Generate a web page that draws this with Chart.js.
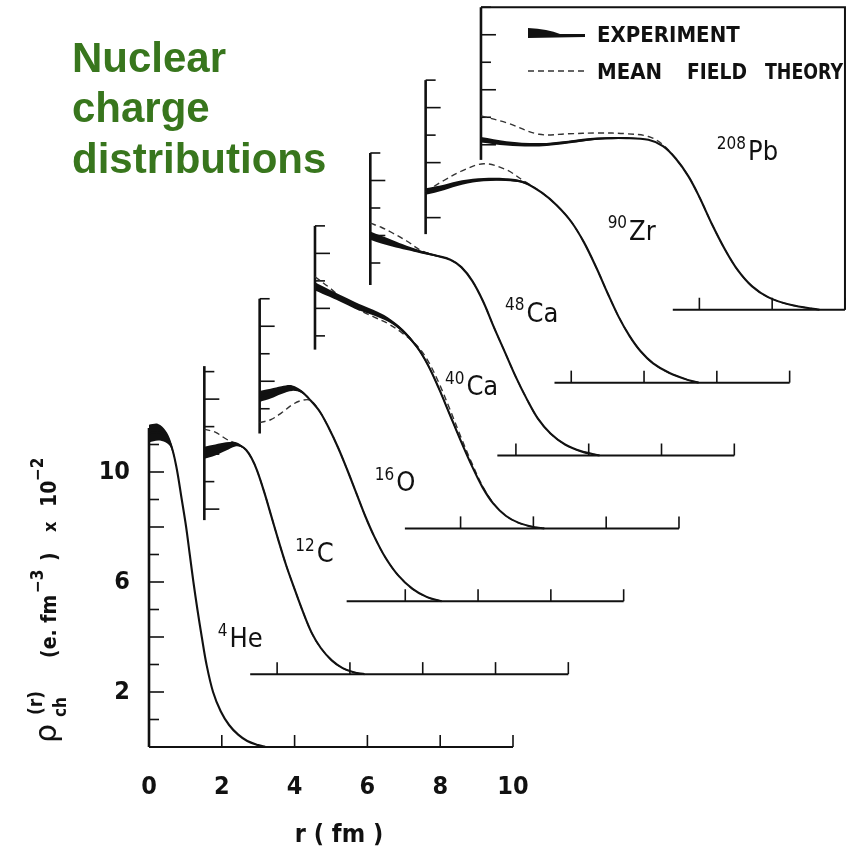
<!DOCTYPE html>
<html>
<head>
<meta charset="utf-8">
<script src="https://cdn.jsdelivr.net/npm/chart.js@4.4.0/dist/chart.umd.min.js"></script>
<style>
  html, body { margin: 0; padding: 0; background: #fff; }
  #wrap { position: relative; width: 856px; height: 850px; }
</style>
</head>
<body>
<div id="wrap"><canvas id="densityChart" width="856" height="850"></canvas></div>
<script>
// nuclei, from front (He) to back (Pb); rho in units of 1e-2 e.fm^-3, r in fm
var symbols = ['He', 'C', 'O', 'Ca', 'Ca', 'Zr', 'Pb'];
var massNumbers = ['4', '12', '16', '40', '48', '90', '208'];

var heR      = [0, 0.25, 0.45, 0.6, 0.75, 0.9, 1.02, 1.12, 1.22, 1.33, 1.45, 1.58, 1.76, 1.97, 2.2, 2.45, 2.7, 3.0, 3.2];
var heExp    = [11.4, 11.45, 11.3, 11.0, 10.2, 9.0, 8.0, 7.0, 6.0, 5.0, 4.0, 3.0, 2.0, 1.3, 0.8, 0.45, 0.22, 0.07, 0];
var heErr    = [0.32, 0.3, 0.22, 0.12, 0.05, 0.03, 0, 0, 0, 0, 0, 0, 0, 0, 0, 0, 0, 0, 0];
var heTheory = null;

var cR      = [0, 0.3, 0.6, 0.85, 1.0, 1.15, 1.3, 1.45, 1.65, 1.85, 2.05, 2.25, 2.45, 2.7, 2.95, 3.2, 3.5, 3.8, 4.1, 4.4];
var cExp    = [8.05, 8.15, 8.28, 8.36, 8.3, 8.15, 7.85, 7.4, 6.6, 5.7, 4.8, 3.95, 3.2, 2.3, 1.5, 0.95, 0.5, 0.22, 0.07, 0];
var cErr    = [0.22, 0.2, 0.15, 0.08, 0.04, 0.02, 0, 0, 0, 0, 0, 0, 0, 0, 0, 0, 0, 0, 0, 0];
var cTheory = [8.9, 8.8, 8.55, 8.4, 8.3, 8.15, 7.85, 7.4, 6.6, 5.7, 4.8, 3.95, 3.2, 2.3, 1.5, 0.95, 0.5, 0.22, 0.07, 0];

var oR      = [0, 0.3, 0.6, 0.9, 1.15, 1.4, 1.65, 1.9, 2.15, 2.4, 2.65, 2.9, 3.15, 3.45, 3.8, 4.2, 4.6, 5.0];
var oExp    = [7.45, 7.55, 7.68, 7.75, 7.62, 7.3, 6.9, 6.3, 5.6, 4.8, 3.95, 3.1, 2.35, 1.6, 0.95, 0.45, 0.15, 0];
var oErr    = [0.2, 0.18, 0.14, 0.1, 0.05, 0, 0, 0, 0, 0, 0, 0, 0, 0, 0, 0, 0, 0];
var oTheory = [6.5, 6.6, 6.85, 7.15, 7.3, 7.3, 6.9, 6.3, 5.6, 4.8, 3.95, 3.1, 2.35, 1.6, 0.95, 0.45, 0.15, 0];

var ca40R      = [0, 0.4, 0.8, 1.2, 1.6, 2.0, 2.4, 2.8, 3.1, 3.4, 3.7, 4.0, 4.3, 4.6, 4.9, 5.25, 5.6, 6.0, 6.3];
var ca40Exp    = [8.8, 8.55, 8.3, 8.05, 7.85, 7.6, 7.2, 6.6, 5.95, 5.1, 4.15, 3.2, 2.3, 1.5, 0.9, 0.45, 0.2, 0.05, 0];
var ca40Err    = [0.15, 0.13, 0.12, 0.12, 0.1, 0.08, 0.06, 0.05, 0.05, 0.05, 0.05, 0.04, 0.03, 0, 0, 0, 0, 0, 0];
var ca40Theory = [9.15, 8.75, 8.3, 7.95, 7.7, 7.45, 7.1, 6.65, 6.1, 5.3, 4.35, 3.35, 2.4, 1.55, 0.92, 0.45, 0.2, 0.05, 0];

var ca48R      = [0, 0.3, 0.6, 1.0, 1.4, 1.8, 2.2, 2.5, 2.8, 3.1, 3.4, 3.7, 4.0, 4.3, 4.6, 4.95, 5.35, 5.8, 6.3];
var ca48Exp    = [8.0, 7.85, 7.72, 7.55, 7.4, 7.27, 7.12, 6.85, 6.35, 5.6, 4.65, 3.75, 2.85, 2.05, 1.35, 0.8, 0.4, 0.15, 0];
var ca48Err    = [0.15, 0.14, 0.12, 0.08, 0.05, 0.03, 0, 0, 0, 0, 0, 0, 0, 0, 0, 0, 0, 0, 0];
var ca48Theory = [8.45, 8.3, 8.1, 7.8, 7.45, 7.27, 7.12, 6.85, 6.35, 5.6, 4.65, 3.75, 2.85, 2.05, 1.35, 0.8, 0.4, 0.15, 0];

var zrR      = [0, 0.5, 1.0, 1.6, 2.2, 2.7, 3.2, 3.6, 4.0, 4.35, 4.7, 5.0, 5.3, 5.6, 5.9, 6.25, 6.7, 7.2, 7.5];
var zrExp    = [6.95, 7.1, 7.28, 7.38, 7.38, 7.28, 6.9, 6.45, 5.85, 5.1, 4.15, 3.25, 2.4, 1.7, 1.15, 0.7, 0.35, 0.1, 0];
var zrErr    = [0.12, 0.1, 0.08, 0.06, 0.05, 0.04, 0, 0, 0, 0, 0, 0, 0, 0, 0, 0, 0, 0, 0];
var zrTheory = [6.95, 7.35, 7.7, 7.96, 7.75, 7.33, 6.9, 6.45, 5.85, 5.1, 4.15, 3.25, 2.4, 1.7, 1.15, 0.7, 0.35, 0.1, 0];

var pbR      = [0, 0.7, 1.6, 2.4, 3.2, 4.0, 4.6, 5.0, 5.35, 5.7, 6.0, 6.35, 6.7, 7.05, 7.45, 7.9, 8.5, 9.3];
var pbExp    = [6.18, 6.05, 6.0, 6.1, 6.22, 6.24, 6.18, 5.95, 5.5, 4.85, 4.1, 3.1, 2.2, 1.45, 0.85, 0.45, 0.18, 0];
var pbErr    = [0.1, 0.08, 0.06, 0.05, 0.04, 0.03, 0, 0, 0, 0, 0, 0, 0, 0, 0, 0, 0, 0];
var pbTheory = [7.05, 6.8, 6.38, 6.4, 6.43, 6.4, 6.3, 6.0, 5.5, 4.85, 4.1, 3.1, 2.2, 1.45, 0.85, 0.45, 0.18, 0];

// tick labels of the front (He) frame
var xTickLabels = ['0', '2', '4', '6', '8', '10'];
var yTickLabels = ['2', '6', '10'];

var radii    = [heR, cR, oR, ca40R, ca48R, zrR, pbR];
var expData  = [heExp, cExp, oExp, ca40Exp, ca48Exp, zrExp, pbExp];
var errData  = [heErr, cErr, oErr, ca40Err, ca48Err, zrErr, pbErr];
var theories = [heTheory, cTheory, oTheory, ca40Theory, ca48Theory, zrTheory, pbTheory];

// layout of the staggered frames
var STEP_R = 1.52, STEP_RHO = 2.65;
var axisBottom = [0, 5.6, 6.1, 6.5, 6.2, 5.4, 5.45];
var axisTop    = [11.6, 11.2, 11, 11, 11, 11, 11];
var baseStart  = [0, 1.26, 2.39, 2.47, 3.49, 3.54, 5.27];
var labelPos   = [[1.89, 3.64], [2.5, 4.07], [3.16, 4.0], [3.57, 4.84], [3.7, 4.87], [5.0, 5.2], [6.48, 5.45]];

var FONT = '"DejaVu Sans Condensed", "DejaVu Sans", sans-serif';

function points(rs, vals, i, sign, err) {
    var out = [];
    for (var k = 0; k < rs.length; k++) {
        var v = vals[k] + (err ? sign * err[k] : 0);
        out.push({ x: rs[k] + i * STEP_R, y: v + i * STEP_RHO });
    }
    return out;
}

var datasets = [];
for (var i = 0; i < symbols.length; i++) {
    var base = { pointRadius: 0, borderJoinStyle: 'round', tension: 0.35, clip: false };
    datasets.push(Object.assign({}, base, {
        label: massNumbers[i] + symbols[i] + ' band+', data: points(radii[i], expData[i], i, 1, errData[i]),
        borderWidth: 0, borderColor: 'rgba(0,0,0,0)', fill: false, order: 2
    }));
    datasets.push(Object.assign({}, base, {
        label: massNumbers[i] + symbols[i] + ' band-', data: points(radii[i], expData[i], i, -1, errData[i]),
        borderWidth: 0, borderColor: 'rgba(0,0,0,0)', fill: '-1', backgroundColor: '#111', order: 2
    }));
    datasets.push(Object.assign({}, base, {
        label: massNumbers[i] + symbols[i] + ' experiment', data: points(radii[i], expData[i], i, 0, null),
        borderWidth: 2.1, borderColor: '#111', fill: false, order: 1
    }));
    if (theories[i]) {
        datasets.push(Object.assign({}, base, {
            label: massNumbers[i] + symbols[i] + ' theory', data: points(radii[i], theories[i], i, 0, null),
            borderWidth: 1.4, borderColor: '#333', borderDash: [6, 4], fill: false, order: 3
        }));
    }
}

function textWithSup(ctx, sup, main, x, y, supSize, mainSize) {
    ctx.font = supSize + 'px ' + FONT;
    ctx.fillText(sup, x, y - mainSize * 0.42);
    var w = ctx.measureText(sup).width;
    ctx.font = mainSize + 'px ' + FONT;
    ctx.fillText(main, x + w + 2, y);
}

var framePlugin = {
    id: 'frames',
    beforeDatasetsDraw: function (chart) {
        var ctx = chart.ctx, xs = chart.scales.x, ys = chart.scales.y;
        function px(r, i) { return xs.getPixelForValue(r + i * STEP_R); }
        function py(v, i) { return ys.getPixelForValue(v + i * STEP_RHO); }
        ctx.save();
        ctx.strokeStyle = '#111';
        ctx.lineCap = 'butt';
        for (var i = 0; i < symbols.length; i++) {
            var x0 = px(0, i);
            // vertical axis with inward ticks
            ctx.lineWidth = 2.6;
            ctx.beginPath();
            ctx.moveTo(x0, py(axisBottom[i], i));
            ctx.lineTo(x0, py(axisTop[i], i));
            ctx.stroke();
            ctx.lineWidth = 1.6;
            for (var k = Math.ceil(axisBottom[i]); k <= axisTop[i]; k++) {
                if (k === 0) continue;
                var len = (k % 2 === 0) ? 15 : 10;
                ctx.beginPath();
                ctx.moveTo(x0, py(k, i));
                ctx.lineTo(x0 + len, py(k, i));
                ctx.stroke();
            }
            // base line with upward ticks
            var yb = py(0, i);
            ctx.lineWidth = 2;
            ctx.beginPath();
            ctx.moveTo(px(baseStart[i], i), yb);
            ctx.lineTo(px(10, i), yb);
            ctx.stroke();
            ctx.lineWidth = 1.6;
            for (var t = 2; t <= 10; t += 2) {
                if (t < baseStart[i]) continue;
                ctx.beginPath();
                ctx.moveTo(px(t, i), yb);
                ctx.lineTo(px(t, i), yb - 12);
                ctx.stroke();
            }
        }
        // box around the back frame
        var last = symbols.length - 1;
        ctx.lineWidth = 2;
        ctx.beginPath();
        ctx.moveTo(px(0, last), py(axisTop[last], last));
        ctx.lineTo(px(10, last), py(axisTop[last], last));
        ctx.lineTo(px(10, last), py(0, last));
        ctx.stroke();
        ctx.restore();
    },
    afterDraw: function (chart) {
        var ctx = chart.ctx, xs = chart.scales.x, ys = chart.scales.y;
        ctx.save();
        ctx.fillStyle = '#111';
        ctx.textBaseline = 'alphabetic';
        // nucleus labels
        for (var i = 0; i < symbols.length; i++) {
            var lx = xs.getPixelForValue(labelPos[i][0] + i * STEP_R);
            var ly = ys.getPixelForValue(labelPos[i][1] + i * STEP_RHO);
            textWithSup(ctx, massNumbers[i], symbols[i], lx, ly, 17, 27);
        }
        // tick labels of the front frame
        ctx.font = 'bold 25px ' + FONT;
        ctx.textAlign = 'center';
        ctx.textBaseline = 'middle';
        xTickLabels.forEach(function (lab) {
            ctx.fillText(lab, xs.getPixelForValue(parseFloat(lab)), 787);
        });
        ctx.textAlign = 'right';
        yTickLabels.forEach(function (lab) {
            ctx.fillText(lab, 130, ys.getPixelForValue(parseFloat(lab)));
        });
        ctx.textAlign = 'center';
        ctx.textBaseline = 'alphabetic';
        ctx.fillText('r ( fm )', 339, 842);

        // rotated y title, distances measured upward from y = 745
        ctx.save();
        ctx.translate(56, 745);
        ctx.rotate(-Math.PI / 2);
        ctx.textAlign = 'left';
        ctx.font = '30px "DejaVu Sans", sans-serif';
        ctx.fillText('\u03c1', 2, 0);
        ctx.font = 'bold 17px ' + FONT;
        ctx.fillText('ch', 28, 10);
        ctx.font = 'bold 19px ' + FONT;
        ctx.fillText('(r)', 30, -14);
        ctx.font = 'bold 21px ' + FONT;
        ctx.fillText('(e. fm', 87, 0);
        ctx.font = 'bold 17px ' + FONT;
        ctx.fillText('\u22123', 152, -13);
        ctx.font = 'bold 21px ' + FONT;
        ctx.fillText(')', 184, 0);
        ctx.font = 'bold 18px ' + FONT;
        ctx.fillText('x', 213, 0);
        ctx.font = 'bold 21px ' + FONT;
        ctx.fillText('10', 238, 0);
        ctx.font = 'bold 17px ' + FONT;
        ctx.fillText('\u22122', 264, -13);
        ctx.restore();

        // legend inside the box
        ctx.textAlign = 'left';
        ctx.beginPath();
        ctx.moveTo(528, 28);
        ctx.quadraticCurveTo(548, 29, 560, 34);
        ctx.lineTo(585, 34);
        ctx.lineTo(585, 37);
        ctx.lineTo(528, 38);
        ctx.closePath();
        ctx.fill();
        ctx.strokeStyle = '#333';
        ctx.lineWidth = 1.6;
        ctx.setLineDash([6, 4]);
        ctx.beginPath();
        ctx.moveTo(528, 71);
        ctx.lineTo(586, 71);
        ctx.stroke();
        ctx.setLineDash([]);
        ctx.font = 'bold 22px ' + FONT;
        ctx.fillText('EXPERIMENT', 597, 42, 150);
        ctx.fillText('MEAN', 597, 79, 66);
        ctx.fillText('FIELD', 687, 79, 60);
        ctx.fillText('THEORY', 765, 79, 78);

        // title
        ctx.fillStyle = '#38761d';
        ctx.font = 'bold 42px "Liberation Sans", Arial, sans-serif';
        ctx.fillText('Nuclear', 72, 72);
        ctx.fillText('charge', 72, 122);
        ctx.fillText('distributions', 72, 173);
        ctx.restore();
    }
};

// pixel mapping: r = 0 at x = 149, 36.4 px per fm; rho = 0 at y = 747, 27.5 px per unit
var ctx = document.getElementById('densityChart').getContext('2d');
var chart = new Chart(ctx, {
    type: 'line',
    data: { datasets: datasets },
    options: {
        responsive: false,
        animation: false,
        devicePixelRatio: 1,
        layout: { padding: 0 },
        plugins: { legend: { display: false }, tooltip: { enabled: false } },
        scales: {
            x: { type: 'linear', min: -149 / 36.4, max: -149 / 36.4 + 856 / 36.4, display: false },
            y: { type: 'linear', min: -103 / 27.5, max: -103 / 27.5 + 850 / 27.5, display: false }
        }
    },
    plugins: [framePlugin]
});
</script>
</body>
</html>
